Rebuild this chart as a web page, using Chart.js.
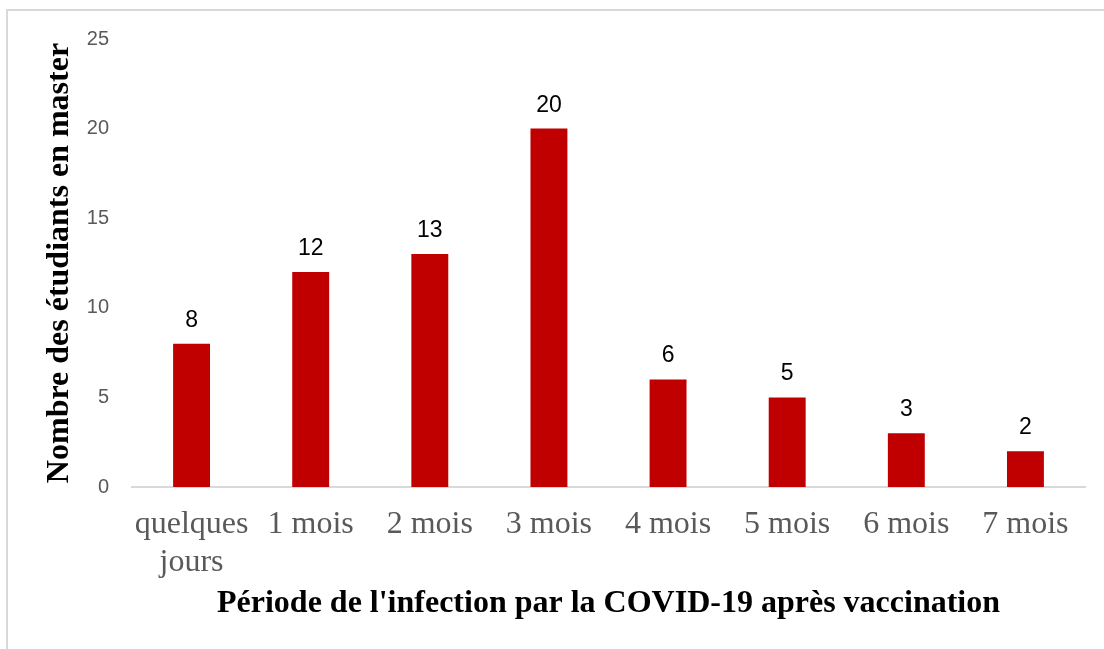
<!DOCTYPE html>
<html>
<head>
<meta charset="utf-8">
<script src="https://cdn.jsdelivr.net/npm/chart.js@4.4.1/dist/chart.umd.min.js"></script>
<style>
  html, body { margin: 0; padding: 0; background: #fff; }
  #wrap { position: relative; width: 1104px; height: 649px; }
  #frame {
    position: absolute; left: 6px; top: 9px; width: 1110px; height: 660px;
    border-left: 2px solid #d9d9d9; border-top: 2px solid #d9d9d9;
    pointer-events: none;
  }
  canvas { position: absolute; left: 0; top: 0; }
</style>
</head>
<body>
<div id="wrap">
  <div id="frame"></div>
  <canvas id="chart" width="1104" height="649"></canvas>
</div>
<script>
// data
const periods = [['quelques', 'jours'], '1 mois', '2 mois', '3 mois', '4 mois', '5 mois', '6 mois', '7 mois'];
const students = [8, 12, 13, 20, 6, 5, 3, 2];
const yTicks = [0, 5, 10, 15, 20, 25];

const yTitle = 'Nombre des étudiants en master';
const xTitle = "Période de l'infection par la COVID-19 après vaccination";

// value labels above each bar
const barLabels = {
    id: 'barLabels',
    afterDatasetsDraw(chart) {
        const ctx = chart.ctx;
        const meta = chart.getDatasetMeta(0);
        ctx.save();
        ctx.font = '23px "Liberation Sans", sans-serif';
        ctx.fillStyle = '#000';
        ctx.textAlign = 'center';
        ctx.textBaseline = 'alphabetic';
        meta.data.forEach((bar, i) => {
            ctx.fillText(String(students[i]), bar.x, bar.y - 17);
        });
        ctx.restore();
    }
};

const ctx = document.getElementById('chart').getContext('2d');
new Chart(ctx, {
    type: 'bar',
    data: {
        labels: periods,
        datasets: [{
            data: students,
            backgroundColor: '#c00000',
            barPercentage: 0.31,
            categoryPercentage: 1
        }]
    },
    options: {
        responsive: false,
        animation: false,
        layout: { padding: { left: 0, right: 19, top: 39, bottom: 0 } },
        plugins: { legend: { display: false }, tooltip: { enabled: false } },
        scales: {
            x: {
                grid: { display: false, drawTicks: false },
                border: { display: true, color: '#d9d9d9', width: 2 },
                ticks: {
                    color: '#595959',
                    padding: 18,
                    maxRotation: 0,
                    autoSkip: false,
                    font: { family: '"Liberation Serif", serif', size: 32, lineHeight: 1.2 }
                },
                title: {
                    display: true,
                    text: xTitle,
                    color: '#000',
                    padding: { top: 0, bottom: 26 },
                    font: { family: '"Liberation Serif", serif', size: 32, weight: 'bold' }
                },
                afterFit(scale) { scale.height = 162; }
            },
            y: {
                min: 0,
                max: 25,
                afterBuildTicks(scale) { scale.ticks = yTicks.map(v => ({ value: v })); },
                grid: { display: false, drawTicks: false },
                border: { display: false },
                ticks: {
                    color: '#595959',
                    padding: 23,
                    font: { family: '"Liberation Sans", sans-serif', size: 20 }
                },
                title: {
                    display: true,
                    text: yTitle,
                    color: '#000',
                    padding: { top: 41, bottom: 0 },
                    font: { family: '"Liberation Serif", serif', size: 32, weight: 'bold' }
                },
                afterFit(scale) { scale.width = 132; }
            }
        }
    },
    plugins: [barLabels]
});
</script>
</body>
</html>
